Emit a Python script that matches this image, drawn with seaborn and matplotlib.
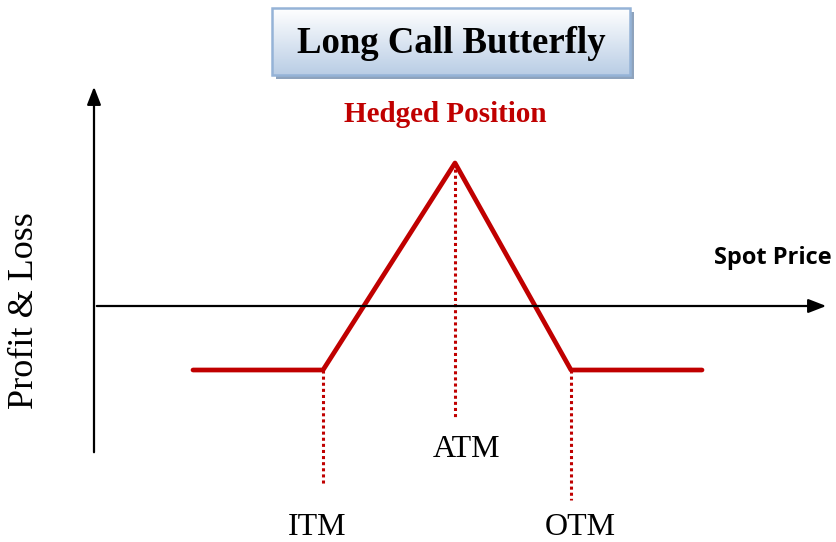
import numpy as np
import pandas as pd
import matplotlib
matplotlib.use("Agg")
import matplotlib.pyplot as plt
import seaborn as sns
from matplotlib.patches import Rectangle

# Payoff of the long call butterfly (axis origin = where the two axes cross)
spot = [99, 229, 361, 477, 608]
pnl = [-65, -65, 142, -65, -65]

# Strike markers and their labels
strike_names = ["ITM", "ATM", "OTM"]
strike_spot = [229, 361, 477]
strike_top = [-65, 142, -65]
strike_bottom = [-179, -113, -195]

df = pd.DataFrame({"Spot": spot, "PnL": pnl})

sns.set_theme(style="white")
plt.rcParams["font.family"] = ["Liberation Serif", "DejaVu Serif"]

red = "#c00000"

fig = plt.figure(figsize=(8.37, 5.42), dpi=100)
ax = fig.add_axes([0, 0, 1, 1])

# axes with arrows
ax.annotate("", xy=(0, 221), xytext=(0, -150),
            arrowprops=dict(arrowstyle="-|>,head_length=0.9,head_width=0.35", color="black", lw=1.6))
ax.annotate("", xy=(735, -1), xytext=(0, -1),
            arrowprops=dict(arrowstyle="-|>,head_length=0.9,head_width=0.35", color="black", lw=1.6))

# dotted strike lines
for name, x, top, bot in zip(strike_names, strike_spot, strike_top, strike_bottom):
    ax.plot([x, x], [top, bot], color=red, lw=2.2, linestyle=(0, (1, 1)))

sns.lineplot(data=df, x="Spot", y="PnL", ax=ax, color=red, lw=3.4, sort=False)

# strike labels
ax.text(223, -237, "ITM", ha="center", va="bottom", fontsize=23, color="black")
ax.text(373, -152, "ATM", ha="center", va="baseline", fontsize=23, color="black")
ax.text(486, -237, "OTM", ha="center", va="bottom", fontsize=23, color="black")

ax.text(679, 41, "Spot Price", ha="center", va="baseline", fontsize=17,
        fontweight="bold", family=["Open Sans", "DejaVu Sans"], color="black")
ax.text(351, 183, "Hedged Position", ha="center", va="baseline", fontsize=21,
        fontweight="bold", color=red)
ax.text(-69, -6, "Profit & Loss", ha="center", va="center", fontsize=26,
        rotation=90, color="black")

# title box with shadow and gradient (white on top, light blue at the bottom)
bx0, bx1, by0, by1 = 178, 536, 230, 297
ax.add_patch(Rectangle((bx0 + 4, by0 - 4), bx1 - bx0, by1 - by0,
                       facecolor="#8ea3bd", edgecolor="none", zorder=3))
grad = np.linspace(1, 0, 100).reshape(-1, 1)
cmap = matplotlib.colors.LinearSegmentedColormap.from_list("g", ["#ffffff", "#b9cde5"])
ax.imshow(grad, extent=(bx0, bx1, by0, by1), origin="lower", cmap=cmap, aspect="auto",
          zorder=4, interpolation="bicubic")
ax.add_patch(Rectangle((bx0, by0), bx1 - bx0, by1 - by0,
                       facecolor="none", edgecolor="#95b3d7", lw=1.8, zorder=5))
ax.text((bx0 + bx1) / 2, 252, "Long Call Butterfly", ha="center", va="baseline",
        fontsize=26.5, fontweight="bold", color="black", zorder=6)

ax.set_xlim(-94, 743)
ax.set_ylim(-237, 305)
ax.axis("off")
if ax.get_legend():
    ax.get_legend().remove()

fig.savefig("out.png", dpi=100)
